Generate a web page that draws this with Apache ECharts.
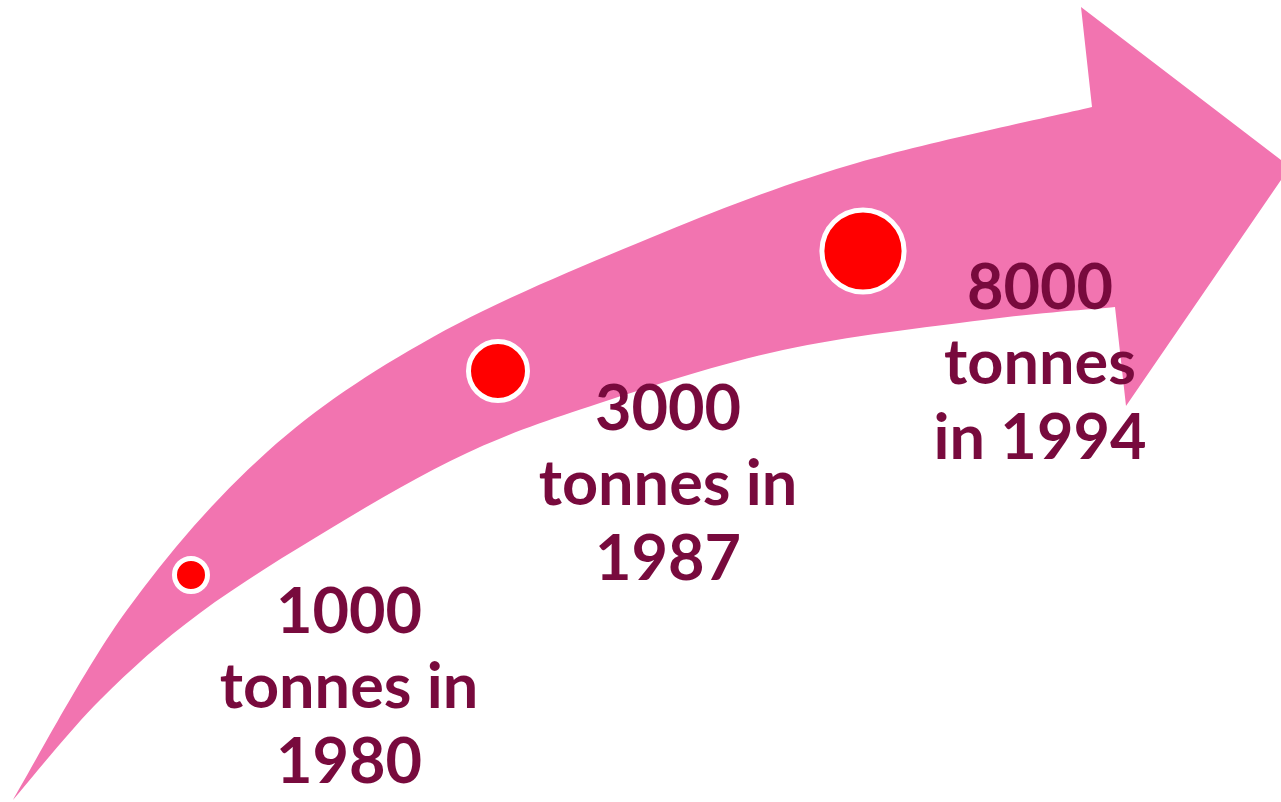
<!DOCTYPE html>
<html>
<head>
<meta charset="utf-8">
<script src="https://cdn.jsdelivr.net/npm/echarts@6/dist/echarts.min.js"></script>
<style>
html,body{margin:0;padding:0;background:#fff;}
#main{width:1281px;height:802px;}
</style>
</head>
<body>
<div id="main"></div>
<script>
// ---- data ----
const years = [1980, 1987, 1994];
const tonnes = [1000, 3000, 8000];
const labelLines = [
  [String(tonnes[0]), 'tonnes in', String(years[0])],
  [String(tonnes[1]), 'tonnes in', String(years[1])],
  [String(tonnes[2]), 'tonnes', 'in ' + years[2]]
];

// ---- layout (canvas units) ----
const markerPos = [[191, 575], [498, 371], [863, 251]];
const labelPos = [[349, 688], [668, 485], [1040, 364]];
const arrowUpper = [[13,800],[127,610],[267,452],[433,337],[650,238],[850,165],[1092,107]];
const arrowHead = [[1081,7],[1290,167],[1126,406],[1115,307]];
const arrowLower = [[13,800],[100,700],[200,613],[333,527],[467,453],[600,403],[783,350],[983,320],[1115,307]];

function sizeOf(v) { return 33 + 54.5 * (Math.log10(v) - 3); }

const chart = echarts.init(document.getElementById('main'));

function smoothSeg(pts, startWithMove) {
  let d = '';
  if (startWithMove) d += 'M' + pts[0][0] + ' ' + pts[0][1];
  for (let i = 0; i < pts.length - 1; i++) {
    const p0 = pts[Math.max(0, i - 1)], p1 = pts[i], p2 = pts[i + 1], p3 = pts[Math.min(pts.length - 1, i + 2)];
    const c1 = [p1[0] + (p2[0] - p0[0]) / 6, p1[1] + (p2[1] - p0[1]) / 6];
    const c2 = [p2[0] - (p3[0] - p1[0]) / 6, p2[1] - (p3[1] - p1[1]) / 6];
    d += 'C' + c1[0] + ' ' + c1[1] + ' ' + c2[0] + ' ' + c2[1] + ' ' + p2[0] + ' ' + p2[1];
  }
  return d;
}

chart.setOption({
  animation: false,
  backgroundColor: '#ffffff',
  grid: { left: 0, right: 0, top: 0, bottom: 0 },
  xAxis: { type: 'value', min: 0, max: 1281, show: false },
  yAxis: { type: 'value', min: 0, max: 802, inverse: true, show: false },
  series: [
    {
      type: 'custom',
      silent: true,
      data: [[0, 0]],
      renderItem: function (params, api) {
        const up = arrowUpper.map(p => api.coord(p));
        const head = arrowHead.map(p => api.coord(p));
        const low = arrowLower.slice().reverse().map(p => api.coord(p));
        let d = smoothSeg(up, true);
        head.forEach(p => { d += 'L' + p[0] + ' ' + p[1]; });
        d += smoothSeg(low, false);
        d += 'Z';
        return {
          type: 'path',
          shape: { pathData: d },
          style: { fill: '#F274B0', stroke: null }
        };
      },
      z: 1
    },
    {
      type: 'scatter',
      silent: true,
      data: tonnes.map((v, i) => ({ value: [markerPos[i][0], markerPos[i][1], v, years[i]] })),
      symbol: 'circle',
      symbolSize: function (val) { return sizeOf(val[2]); },
      itemStyle: { color: '#FF0000', borderColor: '#ffffff', borderWidth: 5, opacity: 1 },
      z: 2
    },
    {
      type: 'scatter',
      silent: true,
      data: labelLines.map((lines, i) => ({ value: [labelPos[i][0], labelPos[i][1]], name: lines.join('\n') })),
      symbolSize: 0,
      itemStyle: { opacity: 1 },
      label: {
        show: true,
        position: 'inside',
        formatter: function (p) { return p.name; },
        fontFamily: 'Lato',
        fontWeight: 'bold',
        fontSize: 63,
        lineHeight: 75,
        color: '#780A3D',
        opacity: 1,
        align: 'center',
        verticalAlign: 'middle'
      },
      z: 3
    }
  ]
});
</script>
</body>
</html>
